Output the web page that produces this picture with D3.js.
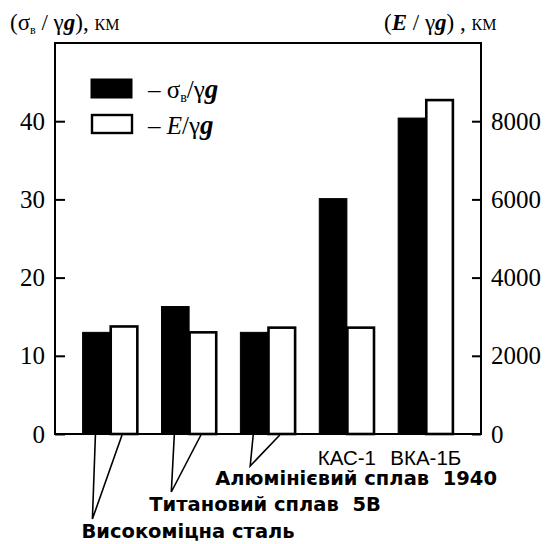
<!DOCTYPE html>
<html>
<head>
<meta charset="utf-8">
<script src="https://cdn.jsdelivr.net/npm/d3@7"></script>
<style>
  body { margin: 0; background: #fff; }
  svg text { fill: #000; }
  .serif { font-family: "Liberation Serif", "Times New Roman", serif; }
  .cat { font-family: "DejaVu Sans", Verdana, sans-serif; font-weight: bold; font-size: 19.5px; white-space: pre; }
  .cat2 { font-family: "Liberation Sans", Arial, sans-serif; font-size: 20.5px; }
</style>
</head>
<body>
<div id="chart"></div>
<script>
// data
var categories = ["Високоміцна сталь", "Титановий сплав  5В", "Алюмінієвий сплав  1940", "КАС-1", "ВКА-1Б"];
var strengthKm = [13.0, 16.3, 13.0, 30.1, 40.4];     // sigma_b / gamma g, km
var modulusKm  = [2750, 2600, 2720, 2720, 8540];    // E / gamma g, km
var leftTicks  = [0, 10, 20, 30, 40];
var rightTicks = [0, 2000, 4000, 6000, 8000];

var W = 548, H = 544;
var frame = {left: 55, right: 481, top: 43, bottom: 434};
// hanging labels of the first three groups: baseline and shift from the leader tip
var labelRows  = [538, 511, 485];
var labelShift = [-11, -22, -35];

var svg = d3.select("#chart").append("svg")
    .attr("width", W)
    .attr("height", H);

var x = d3.scaleBand()
    .domain(categories)
    .range([frame.left, frame.right])
    .paddingInner(0.3)
    .paddingOuter(0.35);

var xs = d3.scaleBand()
    .domain(["s", "e"])
    .range([0, x.bandwidth()]);

var yL = d3.scaleLinear().domain([0, 50]).range([frame.bottom, frame.top]);
var yR = d3.scaleLinear().domain([0, 10000]).range([frame.bottom, frame.top]);

// bars
var g = svg.append("g");
categories.forEach(function(c, i) {
  g.append("rect")
    .attr("x", x(c) + xs("s"))
    .attr("y", yL(strengthKm[i]))
    .attr("width", xs.bandwidth())
    .attr("height", frame.bottom - yL(strengthKm[i]))
    .attr("fill", "#000")
    .attr("stroke", "#000")
    .attr("stroke-width", 1);
  g.append("rect")
    .attr("x", x(c) + xs("e") + 0.5)
    .attr("y", yR(modulusKm[i]))
    .attr("width", xs.bandwidth() - 1)
    .attr("height", frame.bottom - yR(modulusKm[i]))
    .attr("fill", "#fff")
    .attr("stroke", "#000")
    .attr("stroke-width", 2.6);
});

// frame
svg.append("path")
  .attr("d", "M" + frame.left + "," + frame.bottom + "V" + frame.top + "H" + frame.right + "V" + frame.bottom + "Z")
  .attr("fill", "none")
  .attr("stroke", "#000")
  .attr("stroke-width", 2);

// axes (ticks inward)
var axL = svg.append("g")
  .attr("transform", "translate(" + frame.left + ",0)")
  .call(d3.axisLeft(yL).tickValues(leftTicks).tickSizeInner(-10).tickSizeOuter(0).tickPadding(10));
var axR = svg.append("g")
  .attr("transform", "translate(" + frame.right + ",0)")
  .call(d3.axisRight(yR).tickValues(rightTicks).tickFormat(d3.format("d")).tickSizeInner(-9).tickSizeOuter(0).tickPadding(10));
[axL, axR].forEach(function(ax) {
  ax.select(".domain").remove();
  ax.selectAll("line").attr("stroke", "#000").attr("stroke-width", 2);
  ax.selectAll("text")
    .attr("class", "serif")
    .style("font-size", "25px")
    .attr("fill", "#000");
});

// category labels
var lab = svg.append("g");
categories.forEach(function(c, i) {
  var bx = x(c) + xs("s") + xs.bandwidth() / 2;
  var wx = x(c) + xs("e") + xs.bandwidth() / 2;
  if (i < 3) {
    var tipY = labelRows[i] - 19;
    var tipX = bx - 4;
    lab.append("path")
      .attr("d", "M" + (bx - 1) + "," + (frame.bottom + 1) + "L" + tipX + "," + tipY + "L" + (wx - 2) + "," + (frame.bottom + 1))
      .attr("fill", "none")
      .attr("stroke", "#000")
      .attr("stroke-width", 1.6);
    lab.append("text")
      .attr("class", "cat")
      .attr("x", tipX + labelShift[i])
      .attr("y", labelRows[i])
      .text(c);
  } else {
    lab.append("text")
      .attr("class", "cat2")
      .attr("x", x(c) + x.bandwidth() / 2)
      .attr("y", 465)
      .attr("text-anchor", "middle")
      .text(c);
  }
});

// axis titles
var tL = svg.append("text").attr("class", "serif").attr("x", 10).attr("y", 30).style("font-size", "23px");
tL.append("tspan").text("(σ");
tL.append("tspan").attr("dy", 4).style("font-size", "12px").text("в");
tL.append("tspan").attr("dy", -4).text(" / γ");
tL.append("tspan").style("font-weight", "bold").style("font-style", "italic").text("g");
tL.append("tspan").text("), ");
tL.append("tspan").style("font-size", "16px").text(" КМ");

var tR = svg.append("text").attr("class", "serif").attr("x", 384).attr("y", 30).style("font-size", "23px");
tR.append("tspan").text("(");
tR.append("tspan").style("font-weight", "bold").style("font-style", "italic").text("E");
tR.append("tspan").text(" / γ");
tR.append("tspan").style("font-weight", "bold").style("font-style", "italic").text("g");
tR.append("tspan").text(") , ");
tR.append("tspan").style("font-size", "16px").text("КМ");

// legend
var leg = svg.append("g");
leg.append("rect").attr("x", 91).attr("y", 79).attr("width", 41).attr("height", 19)
  .attr("fill", "#000").attr("stroke", "#000").attr("stroke-width", 1);
leg.append("rect").attr("x", 92).attr("y", 115).attr("width", 40).attr("height", 18)
  .attr("fill", "#fff").attr("stroke", "#000").attr("stroke-width", 2.4);
var l1 = leg.append("text").attr("class", "serif").attr("x", 148).attr("y", 98).style("font-size", "25px");
l1.append("tspan").text("– σ");
l1.append("tspan").attr("dy", 4).style("font-size", "14px").text("в");
l1.append("tspan").attr("dy", -4).text("/γ");
l1.append("tspan").style("font-weight", "bold").style("font-style", "italic").style("font-size", "27px").text("g");
var l2 = leg.append("text").attr("class", "serif").attr("x", 148).attr("y", 134).style("font-size", "25px");
l2.append("tspan").text("– ");
l2.append("tspan").style("font-style", "italic").text("E");
l2.append("tspan").text("/γ");
l2.append("tspan").style("font-weight", "bold").style("font-style", "italic").style("font-size", "27px").text("g");
</script>
</body>
</html>
